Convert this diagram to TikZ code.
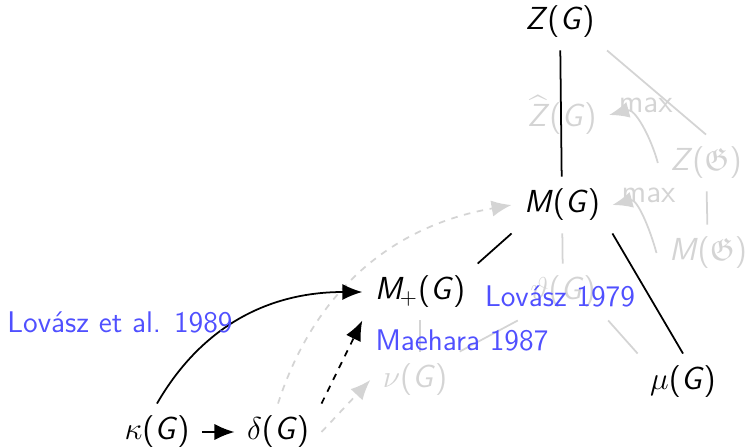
\documentclass[tikz,border=0pt]{standalone}
\usepackage{fontspec}
\usepackage{amssymb}
\usepackage{tikz}
\usetikzlibrary{arrows.meta,calc,positioning}
\definecolor{refBlue}{RGB}{80,80,255}
\definecolor{softGray}{RGB}{212,212,212}
\newcommand{\sv}[1]{\textsf{\textit{#1}}}
\newcommand{\gfn}[1]{#1\textsf{(\textit{G})}}

\begin{document}
\begin{tikzpicture}[x=0.016cm,y=-0.016cm, every node/.style={font=\fontsize{14.5}{17}\sffamily\selectfont},
  knot/.style={inner sep=5.5pt},
  ghost/.style={inner sep=5.5pt,text=softGray},
  cite/.style={text=refBlue,font=\fontsize{13.6}{16}\sffamily\selectfont},
  blk/.style={line width=0.8pt},
  gry/.style={line width=0.8pt,softGray},
  tip/.style={-{Latex[length=3.2mm,width=2.6mm]}}]
\useasboundingbox (0,0) rectangle (748,447);
% greyed-out part
\node[ghost] (zh) at (562,115) {\gfn{$\widehat{\sv{Z}}$}};
\node[ghost] (zf) at (706,163) {\sv{Z}\textsf{(}$\mathfrak{G}$\textsf{)}};
\node[ghost] (mf) at (708,253) {\sv{M}\textsf{(}$\mathfrak{G}$\textsf{)}};
\node[ghost] (th) at (563,292) {\gfn{$\vartheta$}};
\node[ghost] (nu) at (415,380) {\gfn{$\nu$}};
% main nodes
\node[knot] (z) at (560,22) {\gfn{\sv{Z}}};
\node[knot] (m) at (562,205) {\gfn{\sv{M}}};
\node[knot] (mp) at (420,292) {\sv{M}$_{\!+}$\textsf{(\textit{G})}};
\node[knot] (mu) at (683,382) {\gfn{$\mu$}};
\node[knot] (ka) at (157,432) {\gfn{$\kappa$}};
\node[knot] (de) at (278,432) {\gfn{$\delta$}};
% grey connectors
\draw[gry] (z.south east)--(zf.north); \draw[gry] (zf)--(mf);
\draw[gry] (m)--(th); \draw[gry] (th.south west)--(nu.north east); \draw[gry] (th.south east)--(mu.north west);
\draw[gry] (mp.south)--(mp.south |- nu.north);
\draw[gry,tip] (zf.west) to[out=105,in=15] node[pos=0.88,anchor=south west,inner sep=0pt,text=softGray]{max} (zh.east);
\draw[gry,tip] (mf.west) to[out=105,in=15] node[pos=0.88,anchor=south west,inner sep=0pt,text=softGray]{max} (m.east);
\draw[gry,dashed,tip] (de.north) to[out=72,in=190] (m.west);
\draw[gry,dashed,tip] (de.east) -- (nu.west);
% black connectors
\draw[blk] (z)--(m); \draw[blk] (m.south west)--(mp.north east); \draw[blk] (m.south east)--(mu.north);
\draw[blk,tip] (ka)--(de);
\draw[blk,tip] (ka.north) to[out=60,in=180] (mp.west);
\draw[blk,dashed,tip] (de.north east)--(mp.south west);
% references
\node[cite] (c1) at (120,322) {Lovász et al. 1989};
\node[cite] (c2) at (462,340) {Maehara 1987};
\node[cite] (c3) at (560,296) {Lovász 1979};
\end{tikzpicture}
\end{document}
